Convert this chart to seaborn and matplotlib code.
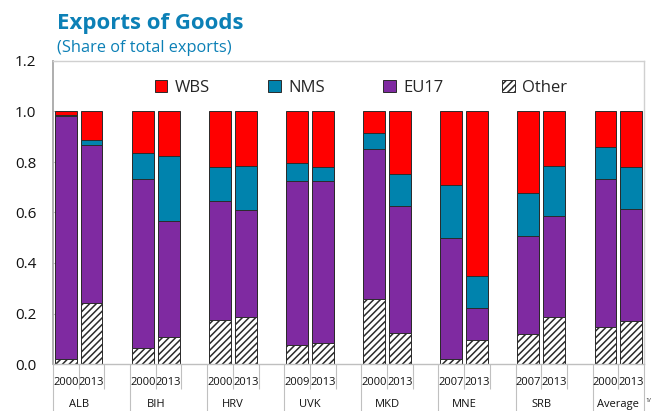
import matplotlib
matplotlib.use("Agg")
import matplotlib.pyplot as plt
from matplotlib.patches import Patch
import pandas as pd
import seaborn as sns

# Country groups and the two years shown for each
countries = ["ALB", "BIH", "HRV", "UVK", "MKD", "MNE", "SRB", "Average"]
first_years = ["2000", "2000", "2000", "2009", "2000", "2007", "2007", "2000"]
last_year = "2013"

# Shares of total exports, two bars per country (first year, 2013)
other = [0.020, 0.243, 0.063, 0.108, 0.176, 0.187, 0.075, 0.082,
         0.259, 0.121, 0.018, 0.095, 0.120, 0.187, 0.145, 0.170]
eu17 = [0.962, 0.624, 0.669, 0.459, 0.471, 0.424, 0.650, 0.644,
        0.593, 0.506, 0.482, 0.125, 0.385, 0.400, 0.587, 0.445]
nms = [0.006, 0.019, 0.105, 0.256, 0.135, 0.173, 0.072, 0.054,
       0.062, 0.125, 0.209, 0.130, 0.172, 0.198, 0.129, 0.167]
wbs = [0.012, 0.114, 0.163, 0.177, 0.218, 0.216, 0.203, 0.220,
       0.086, 0.248, 0.291, 0.650, 0.323, 0.215, 0.139, 0.218]

series_names = ["WBS", "NMS", "EU17", "Other"]
colors = {"WBS": "#FF0000", "NMS": "#0083AD", "EU17": "#7F2AA1", "Other": "white"}
title_color = "#0C80B6"

sns.set_theme(style="white")
plt.rcParams["font.family"] = ["Open Sans", "DejaVu Sans"]
plt.rcParams["hatch.color"] = "#3a3a3a"
plt.rcParams["hatch.linewidth"] = 1.1

# Slot order along the x axis: two bars per country, blank slot between groups
slots, years = [], []
for i, c in enumerate(countries):
    for y in (first_years[i], last_year):
        slots.append(f"{c} {y}")
        years.append(y)
order = []
for i, c in enumerate(countries):
    order += [f"{c} {first_years[i]}", f"{c} {last_year}"]
    if i < len(countries) - 1:
        order.append(f"gap{i}")

df = pd.DataFrame({"slot": slots, "year": years,
                   "Other": other, "EU17": eu17, "NMS": nms, "WBS": wbs})
df["cum_other"] = df["Other"]
df["cum_eu17"] = df["cum_other"] + df["EU17"]
df["cum_nms"] = df["cum_eu17"] + df["NMS"]
df["cum_wbs"] = df["cum_nms"] + df["WBS"]

fig = plt.figure(figsize=(6.52, 4.11), dpi=100)
ax = fig.add_axes([53 / 652, 1 - 364 / 411, (644 - 53) / 652, (364 - 61) / 411])

# Stacked bars drawn as overlapping cumulative totals, top layer first
layers = [("WBS", "cum_wbs"), ("NMS", "cum_nms"), ("EU17", "cum_eu17"), ("Other", "cum_other")]
for name, col in layers:
    kw = dict(hatch="/////") if name == "Other" else {}
    sns.barplot(data=df, x="slot", y=col, order=order, color=colors[name],
                saturation=1, width=0.85, edgecolor="#2b2b2b", linewidth=0.7,
                errorbar=None, ax=ax, **kw)

ax.set_ylim(0, 1.2)
ax.set_xlim(-0.5, len(order) - 0.5)
ax.set_xlabel("")
ax.set_ylabel("")
ax.set_yticks([0, 0.2, 0.4, 0.6, 0.8, 1.0, 1.2])
ax.set_yticklabels([f"{v:.1f}" for v in [0, 0.2, 0.4, 0.6, 0.8, 1.0, 1.2]])
ax.tick_params(axis="y", direction="in", length=3, width=0.8, color="#BFBFBF",
               labelsize=11, pad=12, labelcolor="#111111", left=True)

# Category axis: long ticks between countries, short ticks between years
group_edges = [3 * i - 0.5 for i in range(len(countries))] + [len(order) - 0.5]
slot_edges = [k + 0.5 for k in range(len(order) - 1) if (k + 0.5) not in group_edges]
ax.set_xticks(group_edges)
ax.set_xticks(slot_edges, minor=True)
ax.set_xticklabels([])
ax.tick_params(axis="x", which="major", direction="out", length=34, width=0.8,
               color="#C0C0C0", bottom=True)
ax.tick_params(axis="x", which="minor", direction="out", length=18, width=0.8,
               color="#C0C0C0", bottom=True)

for s in ["top", "right"]:
    ax.spines[s].set_color("#D0D0D0")
    ax.spines[s].set_linewidth(1.0)
ax.spines["left"].set_color("#A8A8A8")
ax.spines["left"].set_linewidth(1.3)
ax.spines["bottom"].set_color("#BFBFBF")
ax.spines["bottom"].set_linewidth(1.0)

# Year and country labels under the axis
for i, c in enumerate(countries):
    for j, y in enumerate((first_years[i], last_year)):
        ax.annotate(y, xy=(3 * i + j, 0), xycoords=("data", "axes fraction"),
                    xytext=(0, -13), textcoords="offset points",
                    ha="center", va="center", fontsize=8, color="#111111")
    ax.annotate(c, xy=(3 * i + 0.5, 0), xycoords=("data", "axes fraction"),
                xytext=(0, -29.5), textcoords="offset points",
                ha="center", va="center", fontsize=8, color="#111111")
fig.text(645.5 / 652, 1 - 400 / 411, "1/", fontsize=4.5, ha="left", va="center",
         color="#111111")

handles = [Patch(facecolor=colors[n], edgecolor="#2b2b2b", linewidth=0.7,
                 hatch="/////" if n == "Other" else None) for n in series_names]
fig.legend(handles, series_names, loc="center", bbox_to_anchor=(361 / 652, 1 - 88 / 411),
           ncol=4, frameon=False, fontsize=12, handlelength=0.75, handleheight=0.75,
           handletextpad=0.45, columnspacing=3.5, borderaxespad=0)

fig.text(57 / 652, 1 - 29 / 411, "Exports of Goods", fontsize=16, fontweight="bold",
         color=title_color, ha="left", va="baseline")
fig.text(57 / 652, 1 - 52 / 411, "(Share of total exports)", fontsize=11.8,
         color=title_color, ha="left", va="baseline")

fig.savefig("out.png", dpi=100)
